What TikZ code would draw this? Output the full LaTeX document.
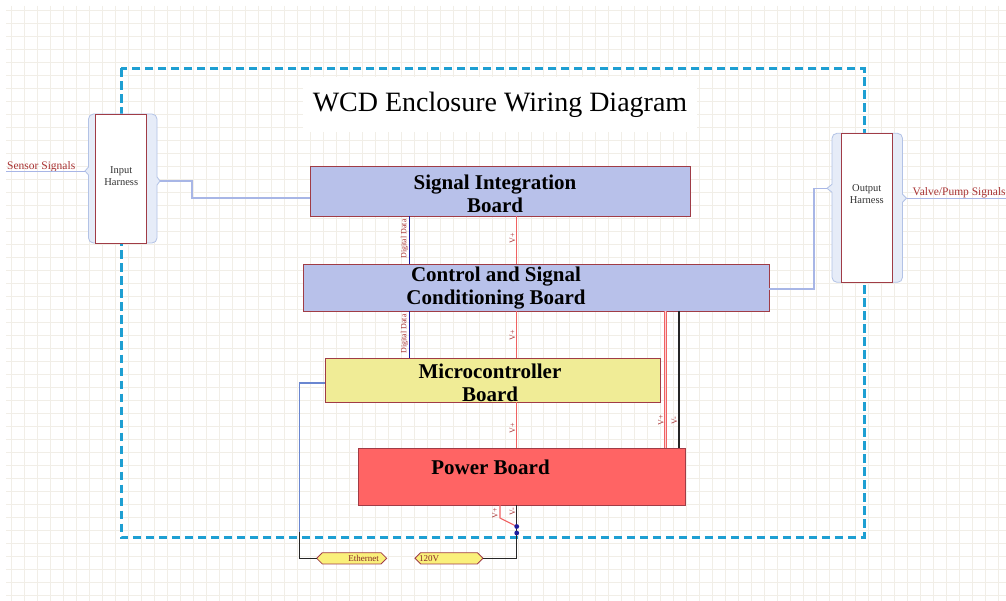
\documentclass[tikz,border=0pt]{standalone}
\usepackage{fontspec}
\setmainfont{Liberation Serif}
\usetikzlibrary{shapes.symbols}
\definecolor{gridc}{HTML}{F1EEE7}
\definecolor{encl}{HTML}{1E9FD2}
\definecolor{bordr}{HTML}{A03C46}
\definecolor{blueb}{HTML}{B8C1EA}
\definecolor{yellb}{HTML}{F0EC96}
\definecolor{redb}{HTML}{FF6464}
\definecolor{tagf}{HTML}{FAF07A}
\definecolor{sigw}{HTML}{A8B6E6}
\definecolor{ddw}{HTML}{1C1C9C}
\definecolor{vw}{HTML}{F06262}
\definecolor{lblr}{HTML}{A83232}
\definecolor{bracef}{HTML}{E6ECF8}
\definecolor{bracel}{HTML}{B2C2E6}
\definecolor{ethw}{HTML}{6A86D0}
\tikzset{
  gridline/.style={draw=gridc, line width=0.8pt},
  enclosure/.style={draw=encl, line width=3pt, dash pattern=on 8.5pt off 4.5pt},
  bracebg/.style={fill=bracef, draw=bracel, line width=0.8pt},
  harness/.style={draw=bordr, fill=white, line width=0.9pt, inner sep=0pt, outer sep=0pt},
  board/.style={draw=bordr, line width=0.9pt, inner sep=0pt, outer sep=0pt},
  btext/.style={font=\fontsize{21}{23}\selectfont\bfseries, align=center, text=black},
  htext/.style={font=\fontsize{10.5}{11.7}\selectfont, align=center, text=black!80},
  sig/.style={draw=sigw, line width=1.1pt},
  dataline/.style={draw=ddw, line width=1.4pt},
  vline/.style={draw=vw, line width=1.1pt},
  vdouble/.style={draw=vw, line width=0.7pt, double=vw!30, double distance=1.5pt},
  gndline/.style={draw=black!85, line width=1.4pt},
  ethline/.style={draw=ethw, line width=1.1pt},
  wlabel/.style={font=\fontsize{8}{9}\selectfont, text=lblr, rotate=90, inner sep=0pt},
  sigtext/.style={font=\fontsize{11.5}{13}\selectfont, text=lblr, inner sep=0pt},
  tag/.style={signal, signal to=west and east, signal pointer angle=90, draw=bordr, fill=tagf, line width=0.8pt, minimum height=11.3pt, inner sep=0pt, outer sep=0pt},
  tagtext/.style={font=\fontsize{9}{10}\selectfont, text=lblr!80!black},
  junction/.style={circle, fill=ddw, inner sep=0pt, minimum size=4.8pt},
}
\begin{document}
\begin{tikzpicture}[x=1pt,y=-1pt]
\useasboundingbox (0,0) rectangle (1006,601);
\fill[white] (0,0) rectangle (1006,601);
% grid
\foreach \i in {0,...,76} \draw[gridline] ({11.7+12.98*\i},6) -- ({11.7+12.98*\i},601);
\foreach \j in {0,...,45} \draw[gridline] (6,{10+13*\j}) -- (1006,{10+13*\j});
% title
\node[fill=white, minimum width=394pt, minimum height=55pt, inner sep=0pt, font=\fontsize{28}{30}\selectfont] (title) at (500,104.5) {WCD Enclosure Wiring Diagram};
% enclosure
\draw[enclosure] (121,68.5) rectangle (864,537.7);
% harness braces
\filldraw[bracebg] (93.5,114) -- (152,114) to[out=0,in=90] (157,119) -- (157,177) -- (160,181) -- (157,185) -- (157,238) to[out=-90,in=0] (152,243) -- (93.5,243) to[out=180,in=-90] (88.5,238) -- (88.5,175) -- (85,171) -- (88.5,167) -- (88.5,119) to[out=90,in=180] (93.5,114) -- cycle;
\filldraw[bracebg] (837,133.3) -- (897.5,133.3) to[out=0,in=90] (902.5,138.3) -- (902.5,194.3) -- (906.5,198.3) -- (902.5,202.3) -- (902.5,277.3) to[out=-90,in=0] (897.5,282.3) -- (837,282.3) to[out=180,in=-90] (832,277.3) -- (832,192.3) -- (827,188.3) -- (832,184.3) -- (832,138.3) to[out=90,in=180] (837,133.3) -- cycle;
\coordinate (inL) at (85,171.5);
\coordinate (inR) at (160,181);
\coordinate (outL) at (827,188.3);
\coordinate (outR) at (906.5,198.3);
% harness nodes
\node[harness, minimum width=51pt, minimum height=129pt, label={[htext, yshift=2.5pt]center:{Input\\Harness}}] (inh) at (121.2,178.5) {};
\node[harness, minimum width=51.7pt, minimum height=149pt, label={[htext, yshift=14pt]center:{Output\\Harness}}] (outh) at (866.8,207.8) {};
% boards
\node[board, fill=blueb, minimum width=380pt, minimum height=50pt, label={[btext, xshift=-5pt, yshift=-2.5pt]center:{Signal Integration\\Board}}] (sib) at (500,191) {};
\node[board, fill=blueb, minimum width=466pt, minimum height=47pt, label={[btext, xshift=-40pt, yshift=-1pt]center:{Control and Signal\\Conditioning Board}}] (cscb) at (536,287.5) {};
\node[board, fill=yellb, minimum width=335pt, minimum height=44pt, label={[btext, xshift=-2.5pt, yshift=-3pt]center:{Microcontroller\\Board}}] (mcb) at (492.5,380) {};
\node[board, fill=redb, minimum width=327pt, minimum height=57pt, label={[btext, xshift=-31pt, yshift=9pt]center:{Power Board}}] (pwr) at (521.5,476.5) {};
% tags
\node[tag, minimum width=70pt, label={[tagtext, xshift=12pt]center:Ethernet}] (eth) at (351.7,558.3) {};
\node[tag, minimum width=68pt, label={[tagtext, xshift=-20pt]center:120V}] (acin) at (449,558.3) {};
% external signal texts
\node[sigtext, anchor=base west] (sens) at (7,169.5) {Sensor Signals};
\coordinate (sensS) at (6,171.5);
\node[sigtext, anchor=base west] (valve) at (912.5,195.5) {Valve/Pump Signals};
\coordinate (valveE) at (1006,198.3);
\draw[sig] (sensS) -- (inL);
\draw[sig] (outR) -- (valveE);
\draw[sig] (inR) -- ++(32,0) |- ([yshift=-7pt]sib.west);
\draw[sig] ([yshift=-1.5pt]cscb.east) -- ++(45,0) |- (outL);
% vertical wires
\coordinate (xd) at (409.3,0);
\coordinate (xv) at (516.7,0);
\coordinate (xr) at (665.5,0);
\coordinate (xk) at (679,0);
\coordinate (xb) at (500,0);
\draw[dataline] (sib.south -| xd) -- (cscb.north -| xd);
\draw[dataline] (cscb.south -| xd) -- (mcb.north -| xd);
\draw[vline] (sib.south -| xv) -- (cscb.north -| xv);
\draw[vline] (cscb.south -| xv) -- (mcb.north -| xv);
\draw[vline] (mcb.south -| xv) -- (pwr.north -| xv);
\draw[vdouble] (cscb.south -| xr) -- (pwr.north -| xr);
\draw[gndline] (cscb.south -| xk) -- (pwr.north -| xk);
\node[wlabel] (dd1) at (404.5,239) {Digital Data};
\node[wlabel] (dd2) at (404.5,334) {Digital Data};
\node[wlabel] (vp1) at (512.5,238) {V+};
\node[wlabel] (vp2) at (512.5,335) {V+};
\node[wlabel] (vp3) at (512.5,428) {V+};
\node[wlabel] (vp4) at (661,420) {V+};
\node[wlabel] (vm1) at (674.5,421) {V-};
% power input at bottom
\draw[vline] (pwr.south -| xb) -- ++(0,13) -- (516.7,526.5) coordinate (jv);
\draw[gndline] (pwr.south -| xv) |- (acin.east);
\node[junction] (j1) at (jv) {};
\node[junction] (j2) at (516.7,533) {};
\node[wlabel] (vp5) at (495,513.5) {V+};
\node[wlabel] (vm2) at (512.5,512) {V-};
% ethernet
\coordinate (ethK) at (299.5,532);
\draw[ethline] ([yshift=-3pt]mcb.west) -| (ethK);
\draw[gndline] (ethK) |- (eth.west);
\end{tikzpicture}
\end{document}
